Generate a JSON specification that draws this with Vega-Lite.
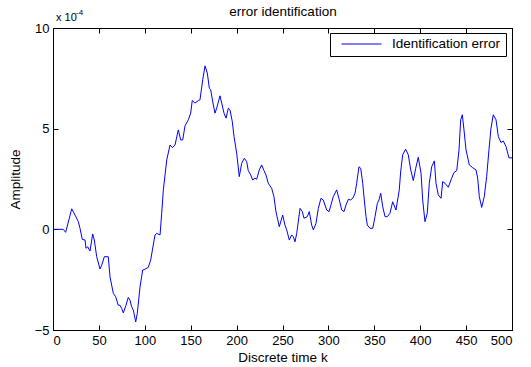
{
  "$schema": "https://vega.github.io/schema/vega-lite/v6.json",
  "width": 459,
  "height": 302,
  "autosize": {"type": "none"},
  "padding": {"left": 53, "top": 28, "right": 19, "bottom": 37},
  "background": "white",
  "config": {
    "font": "Liberation Sans",
    "view": {"stroke": "black", "strokeWidth": 1},
    "axis": {
      "grid": false,
      "domainColor": "black",
      "tickColor": "black",
      "labelColor": "black",
      "titleColor": "black",
      "labelFont": "Liberation Sans",
      "titleFont": "Liberation Sans",
      "labelFontSize": 13,
      "titleFontSize": 13.5,
      "titleFontWeight": "normal",
      "tickSize": -5,
      "labelPadding": 9
    }
  },
  "data": {"values": [
    {"k": 0, "a": 0}, {"k": 11.2, "a": 0}, {"k": 13.8, "a": -0.15}, {"k": 20.4, "a": 1.02}, {"k": 24, "a": 0.71},
    {"k": 27.6, "a": 0.38}, {"k": 29.4, "a": 0.05}, {"k": 31.9, "a": -0.5}, {"k": 34.9, "a": -0.53}, {"k": 35.9, "a": -0.94},
    {"k": 37.8, "a": -0.87}, {"k": 40.3, "a": -1.08}, {"k": 43.2, "a": -0.23}, {"k": 45, "a": -0.53}, {"k": 47.6, "a": -1.36},
    {"k": 51.2, "a": -1.97}, {"k": 53.1, "a": -1.78}, {"k": 55.9, "a": -1.36}, {"k": 60.2, "a": -1.36}, {"k": 62.1, "a": -2.36},
    {"k": 65.7, "a": -3.18}, {"k": 68.3, "a": -3.35}, {"k": 71.1, "a": -3.77}, {"k": 73, "a": -3.77}, {"k": 74.8, "a": -3.93},
    {"k": 76.6, "a": -4.15}, {"k": 79.5, "a": -3.77}, {"k": 82, "a": -3.38}, {"k": 83.9, "a": -3.52}, {"k": 85.7, "a": -3.85},
    {"k": 87.5, "a": -4.01}, {"k": 90.1, "a": -4.6}, {"k": 91.8, "a": -4.18}, {"k": 94.8, "a": -2.86}, {"k": 97.7, "a": -2.02},
    {"k": 100.2, "a": -1.98}, {"k": 103.8, "a": -1.89}, {"k": 106.4, "a": -1.53}, {"k": 111.1, "a": -0.28}, {"k": 113, "a": -0.2},
    {"k": 116.6, "a": -0.28}, {"k": 118.4, "a": 0.8}, {"k": 120.2, "a": 1.96}, {"k": 123.9, "a": 3.45}, {"k": 127.5, "a": 4.19},
    {"k": 130, "a": 4.06}, {"k": 132.9, "a": 4.19}, {"k": 136.5, "a": 4.94}, {"k": 139.1, "a": 4.44}, {"k": 141.3, "a": 4.44},
    {"k": 143.8, "a": 5.14}, {"k": 147.4, "a": 5.44}, {"k": 150, "a": 5.77}, {"k": 151.7, "a": 6.4}, {"k": 154.7, "a": 6.27},
    {"k": 158.3, "a": 6.4}, {"k": 160.1, "a": 6.43}, {"k": 163.1, "a": 7.43}, {"k": 165.6, "a": 8.12}, {"k": 168.1, "a": 7.76},
    {"k": 170.3, "a": 7.01}, {"k": 171.8, "a": 6.93}, {"k": 174.6, "a": 6.18}, {"k": 176.5, "a": 5.77}, {"k": 178.3, "a": 6.02},
    {"k": 181.9, "a": 6.63}, {"k": 183.8, "a": 6.27}, {"k": 186.3, "a": 5.77}, {"k": 188.5, "a": 5.52}, {"k": 191, "a": 6.02},
    {"k": 192.8, "a": 5.94}, {"k": 195.3, "a": 5.35}, {"k": 197.2, "a": 4.61}, {"k": 200.1, "a": 3.78}, {"k": 202.9, "a": 2.62},
    {"k": 205.6, "a": 3.28}, {"k": 208.4, "a": 3.53}, {"k": 211, "a": 3.36}, {"k": 212.7, "a": 2.92}, {"k": 215.4, "a": 2.7},
    {"k": 217.5, "a": 2.45}, {"k": 220, "a": 2.54}, {"k": 221.9, "a": 2.49}, {"k": 224.7, "a": 2.95}, {"k": 227.3, "a": 3.2},
    {"k": 229.8, "a": 2.92}, {"k": 232, "a": 2.7}, {"k": 234.5, "a": 2.29}, {"k": 238.2, "a": 2.04}, {"k": 240.7, "a": 1.62},
    {"k": 242.6, "a": 0.96}, {"k": 243.7, "a": 0.71}, {"k": 246.5, "a": 0.13}, {"k": 250.2, "a": 0.71}, {"k": 252.7, "a": 0.21},
    {"k": 254.6, "a": -0.03}, {"k": 257.4, "a": -0.53}, {"k": 260, "a": -0.28}, {"k": 261.8, "a": -0.37}, {"k": 263.6, "a": -0.62},
    {"k": 265.5, "a": -0.2}, {"k": 269.1, "a": 1.04}, {"k": 271.6, "a": 0.88}, {"k": 273.4, "a": 0.55}, {"k": 277, "a": 0.63},
    {"k": 279.2, "a": 0.88}, {"k": 281.8, "a": 0.21}, {"k": 283.6, "a": -0.03}, {"k": 286.5, "a": 0.3}, {"k": 289, "a": 1.04},
    {"k": 291.9, "a": 1.54}, {"k": 294.4, "a": 1.46}, {"k": 298.1, "a": 0.96}, {"k": 300.7, "a": 0.88}, {"k": 302.8, "a": 1.21},
    {"k": 305.3, "a": 1.62}, {"k": 309, "a": 1.96}, {"k": 311.9, "a": 1.46}, {"k": 314.5, "a": 0.96}, {"k": 317, "a": 0.88},
    {"k": 319.2, "a": 1.21}, {"k": 321.7, "a": 1.49}, {"k": 324.3, "a": 1.46}, {"k": 326.5, "a": 1.54}, {"k": 329, "a": 1.79},
    {"k": 330.8, "a": 2.29}, {"k": 333.3, "a": 3.11}, {"k": 335.2, "a": 3.03}, {"k": 337.4, "a": 2.29}, {"k": 339.1, "a": 1.46},
    {"k": 341, "a": 0.63}, {"k": 342.4, "a": 0.21}, {"k": 345.3, "a": 0.05}, {"k": 348.3, "a": 0.05}, {"k": 350.8, "a": 0.63},
    {"k": 353.3, "a": 1.29}, {"k": 355.1, "a": 1.46}, {"k": 357, "a": 1.79}, {"k": 359.2, "a": 1.12}, {"k": 361.7, "a": 0.63},
    {"k": 364.2, "a": 0.63}, {"k": 367.1, "a": 0.8}, {"k": 370, "a": 1.37}, {"k": 373.6, "a": 0.96}, {"k": 377.2, "a": 1.96},
    {"k": 378.7, "a": 2.85}, {"k": 380.9, "a": 3.7}, {"k": 384.2, "a": 3.98}, {"k": 387, "a": 3.7}, {"k": 389.7, "a": 2.95},
    {"k": 392.5, "a": 2.42}, {"k": 395.1, "a": 3.03}, {"k": 397.9, "a": 3.58}, {"k": 400.9, "a": 2.79}, {"k": 402.7, "a": 1.46},
    {"k": 405.2, "a": 0.38}, {"k": 407.7, "a": 0.8}, {"k": 409.9, "a": 2.29}, {"k": 412.5, "a": 3.11}, {"k": 415.4, "a": 3.4},
    {"k": 417.2, "a": 2.29}, {"k": 419.7, "a": 1.71}, {"k": 422.7, "a": 1.54}, {"k": 424.5, "a": 2.37}, {"k": 427, "a": 2.29},
    {"k": 430.6, "a": 2.09}, {"k": 434.3, "a": 2.54}, {"k": 436.8, "a": 2.82}, {"k": 439.8, "a": 2.92}, {"k": 442.3, "a": 3.95},
    {"k": 444.1, "a": 5.44}, {"k": 445.9, "a": 5.69}, {"k": 447.7, "a": 4.94}, {"k": 449.9, "a": 3.95}, {"k": 453.5, "a": 3.2},
    {"k": 457.2, "a": 3.06}, {"k": 460.8, "a": 2.95}, {"k": 462.6, "a": 2.54}, {"k": 464.4, "a": 1.62}, {"k": 467, "a": 1.09},
    {"k": 469.8, "a": 1.62}, {"k": 472.4, "a": 2.62}, {"k": 474.9, "a": 3.95}, {"k": 477.1, "a": 5.02}, {"k": 479.6, "a": 5.69},
    {"k": 482.6, "a": 5.44}, {"k": 485.1, "a": 4.61}, {"k": 488, "a": 4.31}, {"k": 490.5, "a": 4.39}, {"k": 493.5, "a": 4.11},
    {"k": 496.7, "a": 3.55}, {"k": 500, "a": 3.55}
  ]},
  "layer": [
    {
      "mark": {"type": "line", "strokeWidth": 1, "clip": true},
      "encoding": {
        "x": {"field": "k", "type": "quantitative", "scale": {"domain": [0, 500], "nice": false},
              "axis": {"title": "Discrete time k", "values": [0, 50, 100, 150, 200, 250, 300, 350, 400, 450, 500], "titlePadding": 3}},
        "y": {"field": "a", "type": "quantitative", "scale": {"domain": [-5, 10], "nice": false},
              "axis": {"title": "Amplitude", "values": [-5, 0, 5, 10], "titlePadding": 12}},
        "color": {"datum": "Identification error", "type": "nominal", "scale": {"range": ["#0000ff"]},
          "legend": {"title": null, "orient": "none", "legendX": 277, "legendY": 5, "fillColor": "white", "strokeColor": "black",
            "padding": 5, "symbolType": "stroke", "symbolSize": 1600, "symbolStrokeWidth": 1, "symbolOffset": 6, "clipHeight": 12,
            "labelFontSize": 13.5, "labelFont": "Liberation Sans", "labelColor": "black", "labelOffset": 10, "cornerRadius": 0}}
      }
    },
    {
      "mark": {"type": "line", "strokeOpacity": 0},
      "encoding": {
        "x": {"field": "k", "type": "quantitative", "axis": {"orient": "top", "labels": false, "domain": false, "title": "error identification", "titlePadding": 9, "values": [0, 50, 100, 150, 200, 250, 300, 350, 400, 450, 500]}},
        "y": {"field": "a", "type": "quantitative", "axis": {"orient": "right", "labels": false, "domain": false, "title": null, "values": [-5, 0, 5, 10]}}
      }
    },
    {
      "data": {"values": [{"label": "x 10"}]},
      "mark": {"type": "text", "align": "left", "baseline": "alphabetic", "dx": 3, "dy": -7, "fontSize": 11, "font": "Liberation Sans", "color": "black"},
      "encoding": {
        "x": {"datum": 0, "type": "quantitative", "axis": null},
        "y": {"datum": 10, "type": "quantitative", "axis": null},
        "text": {"field": "label"}
      }
    },
    {
      "data": {"values": [{"label": "-4"}]},
      "mark": {"type": "text", "align": "left", "baseline": "alphabetic", "dx": 23, "dy": -13, "fontSize": 8, "font": "Liberation Sans", "color": "black"},
      "encoding": {
        "x": {"datum": 0, "type": "quantitative", "axis": null},
        "y": {"datum": 10, "type": "quantitative", "axis": null},
        "text": {"field": "label"}
      }
    }
  ],
  "resolve": {"axis": {"x": "independent", "y": "independent"}}
}
